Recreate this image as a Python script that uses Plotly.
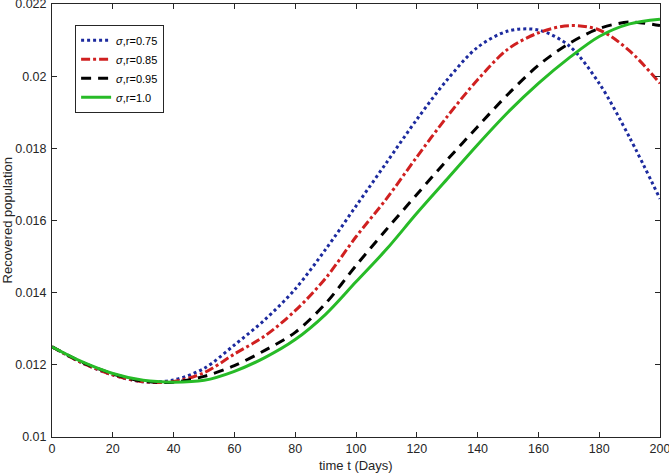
import plotly.graph_objects as go

t = [0, 10, 20, 30, 40, 50, 60, 70, 80, 90, 100, 110, 120, 130, 140, 150, 160, 170, 180, 190, 200]

r075 = [0.0125, 0.01205, 0.01172, 0.01153, 0.01158, 0.0119, 0.01255, 0.01325, 0.0141, 0.0152, 0.0164,
        0.0176, 0.0188, 0.0199, 0.0208, 0.02125, 0.02128, 0.02085, 0.0198, 0.0183, 0.0166]
r085 = [0.0125, 0.01205, 0.01172, 0.01153, 0.01154, 0.01178, 0.0123, 0.0128, 0.0135, 0.0144, 0.01555,
        0.0166, 0.01776, 0.01888, 0.0199, 0.02075, 0.0212, 0.0214, 0.02128, 0.0207, 0.0198]
r095 = [0.0125, 0.01207, 0.01175, 0.01155, 0.01152, 0.01168, 0.01198, 0.0124, 0.0129, 0.0137, 0.01475,
        0.01575, 0.01672, 0.01768, 0.0186, 0.0195, 0.0203, 0.0209, 0.02132, 0.0215, 0.0214]
r100 = [0.0125, 0.01208, 0.01176, 0.01157, 0.01152, 0.01157, 0.01182, 0.0122, 0.0127, 0.0134, 0.0143,
        0.0152, 0.0162, 0.01715, 0.0181, 0.0190, 0.0198, 0.0205, 0.0211, 0.02145, 0.02158]

names = ["<i>σ</i>,r=0.75", "<i>σ</i>,r=0.85", "<i>σ</i>,r=0.95", "<i>σ</i>,r=1.0"]
series = [r075, r085, r095, r100]
colors = ["#1c2a9e", "#d02020", "#000000", "#27bb27"]
dashes = ["dot", "dashdot", "10px,7px", "solid"]

xticks = [0, 20, 40, 60, 80, 100, 120, 140, 160, 180, 200]
yticks = [0.01, 0.012, 0.014, 0.016, 0.018, 0.02, 0.022]
yticktext = ["0.01", "0.012", "0.014", "0.016", "0.018", "0.02", "0.022"]

fig = go.Figure()
for name, ys, c, d in zip(names, series, colors, dashes):
    fig.add_trace(go.Scatter(x=t, y=ys, mode="lines", name=name,
                             line=dict(color=c, width=3, dash=d, shape="spline", smoothing=0.9)))

font = "Liberation Sans, Arial, Helvetica, sans-serif"
fig.update_layout(
    width=669, height=476,
    margin=dict(l=52, r=9, t=4, b=39),
    paper_bgcolor="white", plot_bgcolor="white",
    font=dict(family=font, size=13, color="#262626"),
    showlegend=True,
    legend=dict(x=0.038, y=0.952, xanchor="left", yanchor="top",
                bgcolor="white", bordercolor="#262626", borderwidth=1,
                font=dict(family=font, size=11, color="#000000"),
                tracegroupgap=0, itemwidth=30),
    xaxis=dict(range=[0, 200], tickvals=xticks, ticks="inside", ticklen=5,
               tickcolor="#262626", showline=True, linecolor="#262626", linewidth=1,
               mirror="ticks", showgrid=False, zeroline=False, automargin=False,
               ticklabeloverflow="allow", ticklabelstandoff=0, tickfont=dict(size=12.5)),
    yaxis=dict(range=[0.01, 0.022], tickvals=yticks, ticktext=yticktext, ticks="inside",
               ticklen=5, tickcolor="#262626", showline=True, linecolor="#262626", linewidth=1,
               mirror="ticks", showgrid=False, zeroline=False, automargin=False,
               ticklabeloverflow="allow", ticklabelstandoff=2, tickfont=dict(size=12.5)),
    annotations=[
        dict(text="time t (Days)", xref="paper", yref="paper", x=0.5, y=-0.0647,
             xanchor="center", yanchor="middle", showarrow=False, font=dict(size=13)),
        dict(text="Recovered population", xref="paper", yref="paper", x=-0.0724, y=0.5,
             xanchor="center", yanchor="middle", textangle=-90, showarrow=False,
             font=dict(size=13)),
    ],
)

fig.write_html("out.html", config={"displayModeBar": False},
               post_script="document.body.style.margin='0';document.body.style.overflow='hidden';")
